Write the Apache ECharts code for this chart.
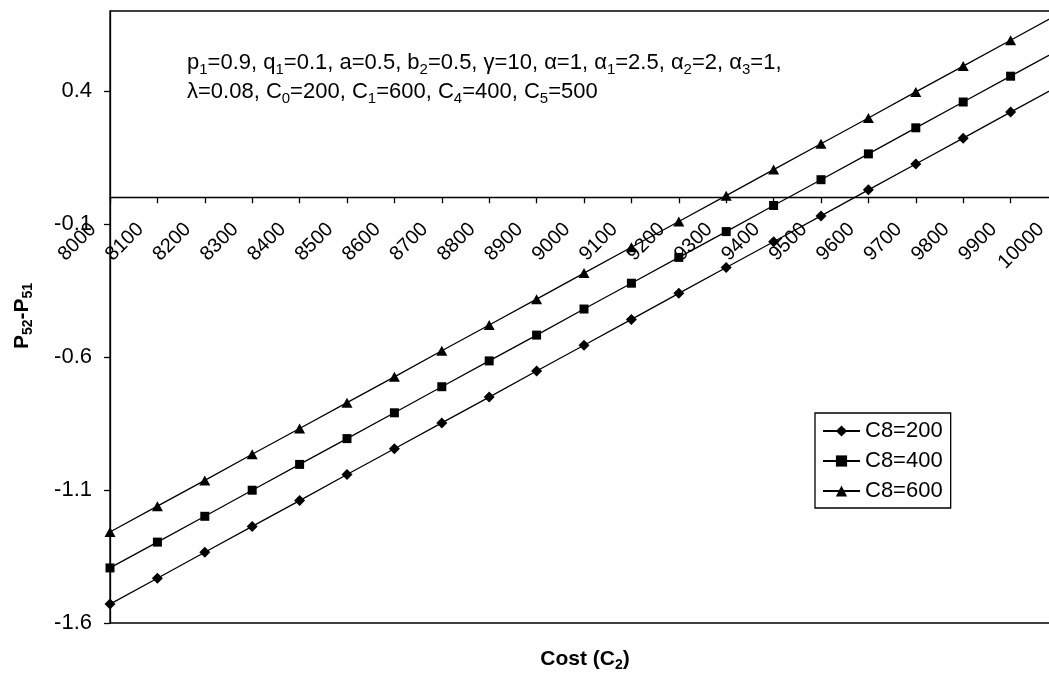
<!DOCTYPE html>
<html>
<head>
<meta charset="utf-8">
<script src="https://cdn.jsdelivr.net/npm/echarts@6/dist/echarts.min.js"></script>
<style>
html,body{margin:0;padding:0;background:#fff;}
#c{width:1049px;height:673px;}
</style>
</head>
<body>
<div id="c"></div>
<script>
// ---- data ----
const costs = ['8000','8100','8200','8300','8400','8500','8600','8700','8800','8900','9000',
               '9100','9200','9300','9400','9500','9600','9700','9800','9900','10000'];
const c8_200 = [-1.529,-1.432,-1.334,-1.237,-1.140,-1.042,-0.945,-0.848,-0.751,-0.653,-0.556,
                -0.459,-0.361,-0.264,-0.167,-0.070,0.028,0.125,0.222,0.320,0.417];
const c8_400 = [-1.393,-1.296,-1.199,-1.101,-1.004,-0.907,-0.810,-0.712,-0.615,-0.518,-0.420,
                -0.323,-0.226,-0.129,-0.031,0.066,0.163,0.261,0.358,0.455,0.552];
const c8_600 = [-1.258,-1.161,-1.064,-0.966,-0.869,-0.772,-0.675,-0.577,-0.480,-0.383,-0.285,
                -0.188,-0.091,0.006,0.104,0.201,0.298,0.396,0.493,0.590,0.687];
const yTicks = [-1.6,-1.1,-0.6,-0.1,0.4];
const seriesNames = ['C8=200','C8=400','C8=600'];
const yMin = -1.6, yMax = 0.7;

const FONT = 'Liberation Sans, Arial, sans-serif';
const chart = echarts.init(document.getElementById('c'), null, {renderer:'canvas'});

const GRID = {left:110, top:11, width:948, height:612};
// place the category axis where y = 0 (the axis crosses at zero)
const zeroOffset = -(GRID.height * (0 - yMin) / (yMax - yMin));

const subStyle = {fontFamily: FONT, fontSize: 15, verticalAlign: 'bottom', lineHeight: 28, fill: '#000', color:'#000'};
const subBold = Object.assign({}, subStyle, {fontWeight:'bold', fontSize:14, lineHeight:26});

function mkSeries(name, data, symbol, size) {
  return {
    name: name, type: 'line', data: data,
    symbol: symbol, symbolSize: size, showSymbol: true,
    lineStyle: {color:'#000', width:1.3},
    itemStyle: {color:'#000'},
    emphasis: {disabled:true},
    animation: false, z: 5
  };
}

chart.setOption({
  animation: false,
  backgroundColor: '#fff',
  textStyle: {fontFamily: FONT},
  grid: Object.assign({show:true, borderColor:'#000', borderWidth:1.3, backgroundColor:'transparent',
                       outerBoundsMode:'none', containLabel:false}, GRID),
  legend: {
    orient:'vertical', left:815, top:413,
    padding:[7,8,6,7], itemGap:8, itemWidth:37, itemHeight:14,
    backgroundColor:'#fff', borderColor:'#000', borderWidth:1.3, borderRadius:0,
    textStyle:{fontFamily:FONT, fontSize:22, color:'#000'},
    data: seriesNames
  },
  xAxis: {
    type:'category', data: costs, boundaryGap:false, position:'bottom', offset: zeroOffset,
    axisLine:{onZero:false, lineStyle:{color:'#000', width:1.3}},
    axisTick:{show:true, inside:false, length:6, lineStyle:{color:'#000', width:1.3}},
    axisLabel:{interval:0, rotate:45, fontSize:20, color:'#000', fontFamily:FONT, margin:12, padding:[0,24,0,0]},
    splitLine:{show:false}
  },
  yAxis: {
    type:'value', min:yMin, max:yMax,
    axisLine:{show:true, lineStyle:{color:'#000', width:1.3}},
    axisTick:{show:true, inside:false, length:6, customValues: yTicks, lineStyle:{color:'#000', width:1.3}},
    axisLabel:{customValues: yTicks, fontSize:22, color:'#000', fontFamily:FONT, margin:18,
               formatter: v => (Math.round(v*10)/10).toFixed(1)},
    splitLine:{show:false}
  },
  graphic: [
    {type:'text', left:187, top:52, z:10, style:{
      text:'p{s|1}=0.9, q{s|1}=0.1, a=0.5, b{s|2}=0.5, γ=10, α=1, α{s|1}=2.5, α{s|2}=2, α{s|3}=1,',
      font:'22px '+FONT, fill:'#000', rich:{s:subStyle}}},
    {type:'text', left:187, top:81, z:10, style:{
      text:'λ=0.08, C{s|0}=200, C{s|1}=600, C{s|4}=400, C{s|5}=500',
      font:'22px '+FONT, fill:'#000', rich:{s:subStyle}}},
    {type:'text', x:585, y:659, z:10, style:{
      text:'Cost (C{s|2})', font:'bold 21px '+FONT, fill:'#000', align:'center', verticalAlign:'middle',
      rich:{s:subBold}}},
    {type:'text', x:22, y:316, rotation:Math.PI/2, z:10, style:{
      text:'P{s|52}-P{s|51}', font:'bold 21px '+FONT, fill:'#000', align:'center', verticalAlign:'middle',
      rich:{s:subBold}}}
  ],
  series: [
    mkSeries(seriesNames[0], c8_200, 'diamond', 11),
    mkSeries(seriesNames[1], c8_400, 'rect', 9),
    mkSeries(seriesNames[2], c8_600, 'triangle', [11,10])
  ]
});
</script>
</body>
</html>
